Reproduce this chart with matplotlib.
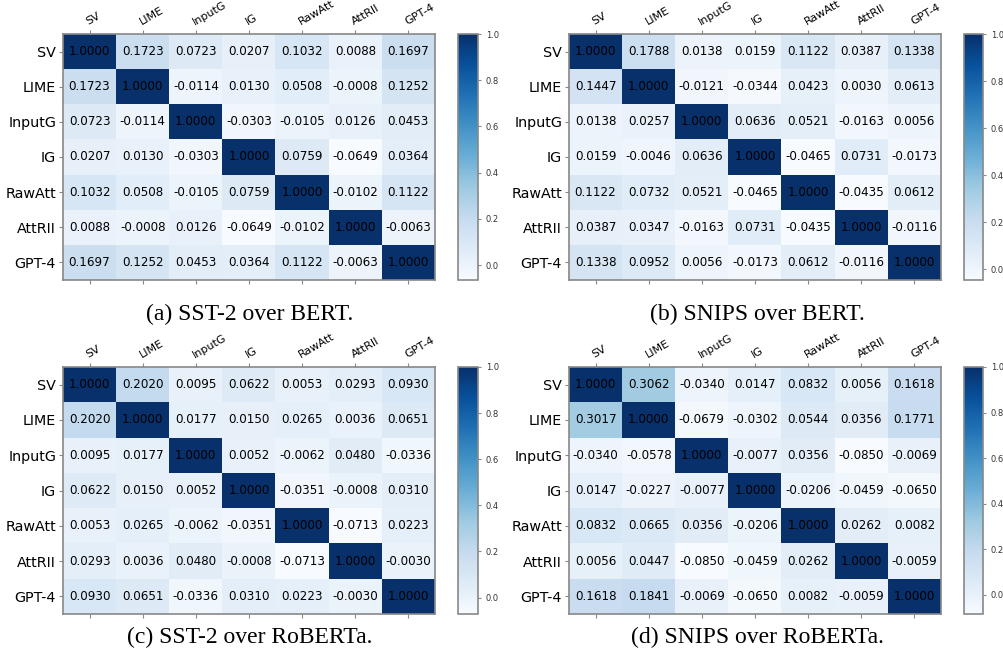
import numpy as np
import matplotlib
matplotlib.use('Agg')
import matplotlib.pyplot as plt

methods = ['SV', 'LIME', 'InputG', 'IG', 'RawAtt', 'AttRII', 'GPT-4']

# (a) SST-2 over BERT
sst2_bert = [
    [1.0000, 0.1723, 0.0723, 0.0207, 0.1032, 0.0088, 0.1697],
    [0.1723, 1.0000, -0.0114, 0.0130, 0.0508, -0.0008, 0.1252],
    [0.0723, -0.0114, 1.0000, -0.0303, -0.0105, 0.0126, 0.0453],
    [0.0207, 0.0130, -0.0303, 1.0000, 0.0759, -0.0649, 0.0364],
    [0.1032, 0.0508, -0.0105, 0.0759, 1.0000, -0.0102, 0.1122],
    [0.0088, -0.0008, 0.0126, -0.0649, -0.0102, 1.0000, -0.0063],
    [0.1697, 0.1252, 0.0453, 0.0364, 0.1122, -0.0063, 1.0000],
]

# (b) SNIPS over BERT
snips_bert = [
    [1.0000, 0.1788, 0.0138, 0.0159, 0.1122, 0.0387, 0.1338],
    [0.1447, 1.0000, -0.0121, -0.0344, 0.0423, 0.0030, 0.0613],
    [0.0138, 0.0257, 1.0000, 0.0636, 0.0521, -0.0163, 0.0056],
    [0.0159, -0.0046, 0.0636, 1.0000, -0.0465, 0.0731, -0.0173],
    [0.1122, 0.0732, 0.0521, -0.0465, 1.0000, -0.0435, 0.0612],
    [0.0387, 0.0347, -0.0163, 0.0731, -0.0435, 1.0000, -0.0116],
    [0.1338, 0.0952, 0.0056, -0.0173, 0.0612, -0.0116, 1.0000],
]

# (c) SST-2 over RoBERTa
sst2_roberta = [
    [1.0000, 0.2020, 0.0095, 0.0622, 0.0053, 0.0293, 0.0930],
    [0.2020, 1.0000, 0.0177, 0.0150, 0.0265, 0.0036, 0.0651],
    [0.0095, 0.0177, 1.0000, 0.0052, -0.0062, 0.0480, -0.0336],
    [0.0622, 0.0150, 0.0052, 1.0000, -0.0351, -0.0008, 0.0310],
    [0.0053, 0.0265, -0.0062, -0.0351, 1.0000, -0.0713, 0.0223],
    [0.0293, 0.0036, 0.0480, -0.0008, -0.0713, 1.0000, -0.0030],
    [0.0930, 0.0651, -0.0336, 0.0310, 0.0223, -0.0030, 1.0000],
]

# (d) SNIPS over RoBERTa
snips_roberta = [
    [1.0000, 0.3062, -0.0340, 0.0147, 0.0832, 0.0056, 0.1618],
    [0.3017, 1.0000, -0.0679, -0.0302, 0.0544, 0.0356, 0.1771],
    [-0.0340, -0.0578, 1.0000, -0.0077, 0.0356, -0.0850, -0.0069],
    [0.0147, -0.0227, -0.0077, 1.0000, -0.0206, -0.0459, -0.0650],
    [0.0832, 0.0665, 0.0356, -0.0206, 1.0000, 0.0262, 0.0082],
    [0.0056, 0.0447, -0.0850, -0.0459, 0.0262, 1.0000, -0.0059],
    [0.1618, 0.1841, -0.0069, -0.0650, 0.0082, -0.0059, 1.0000],
]

captions = ['(a) SST-2 over BERT.', '(b) SNIPS over BERT.',
            '(c) SST-2 over RoBERTa.', '(d) SNIPS over RoBERTa.']
panels = [sst2_bert, snips_bert, sst2_roberta, snips_roberta]

W, H = 1004, 657
fig = plt.figure(figsize=(W / 100, H / 100), dpi=100)

# pixel boxes: (left, top, right, bottom) for heatmap, colorbar x range
boxes = [(63, 34, 435, 280, 458, 478),
         (569, 34, 941, 280, 964, 983),
         (63, 367, 435, 614, 458, 478),
         (569, 367, 941, 614, 964, 983)]
cap_pos = [(250, 314), (757, 314), (250, 637), (757, 637)]

edge = '#888888'

for mat, box, cap, cp in zip(panels, boxes, captions, cap_pos):
    l, t, r, b, cl, cr = box
    ax = fig.add_axes([l / W, 1 - b / H, (r - l) / W, (b - t) / H])
    cax = fig.add_axes([cl / W, 1 - b / H, (cr - cl) / W, (b - t) / H])
    data = np.array(mat)
    im = ax.imshow(data, cmap='Blues', aspect='auto',
                   vmin=data.min(), vmax=1.0)
    n = len(methods)
    for i in range(n):
        for j in range(n):
            ax.text(j, i, '%.4f' % data[i, j], ha='center', va='center',
                    fontsize=8.6, color='black')
    ax.set_xticks(range(n))
    ax.set_yticks(range(n))
    ax.set_xticklabels(methods, rotation=30, ha='left',
                       rotation_mode='anchor', fontsize=8)
    ax.set_yticklabels(methods, fontsize=10.3)
    ax.tick_params(axis='x', top=True, bottom=True, labeltop=True,
                   labelbottom=False, length=3, color=edge, pad=2)
    ax.tick_params(axis='y', length=3, color=edge, pad=2)
    for s in ax.spines.values():
        s.set_color(edge)
        s.set_linewidth(1.2)

    cb = fig.colorbar(im, cax=cax)
    cb.set_ticks([0.0, 0.2, 0.4, 0.6, 0.8, 1.0])
    cb.ax.tick_params(labelsize=6, length=2, color=edge, labelcolor='#333333')
    cb.outline.set_edgecolor(edge)
    cb.outline.set_linewidth(1.2)

    fig.text(cp[0] / W, 1 - cp[1] / H, cap, ha='center', va='center',
             fontsize=17, family='Liberation Serif')

fig.savefig('out.png', dpi=100)
